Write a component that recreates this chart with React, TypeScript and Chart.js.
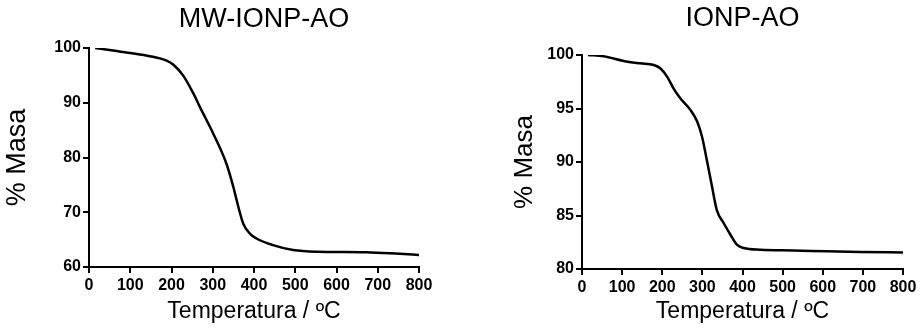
import React, { useEffect, useRef } from "react";
import { Chart, registerables } from "chart.js";

Chart.register(...registerables);

const FONT = '"Liberation Sans", Arial, Helvetica, sans-serif';

// MW-IONP-AO
const tempA = [15, 67, 99, 148, 188, 204, 228, 253, 269, 301, 333, 350, 362, 374, 390, 406, 446, 495, 551, 672, 753, 800];
const massA = [100, 99.45, 99.1, 98.5, 97.7, 97.0, 95.0, 91.7, 89.2, 84.4, 78.9, 74.6, 71.0, 67.9, 66.1, 65.2, 64.0, 63.1, 62.8, 62.7, 62.4, 62.2];

// IONP-AO
const tempB = [15, 54, 104, 145, 179, 195, 212, 228, 245, 270, 287, 299, 311, 324, 336, 353, 370, 386, 403, 444, 527, 610, 693, 800];
const massB = [100, 99.88, 99.44, 99.22, 99.07, 98.76, 97.98, 96.89, 95.96, 94.87, 93.78, 92.38, 90.2, 87.7, 85.5, 84.3, 83.2, 82.27, 81.96, 81.8, 81.74, 81.65, 81.59, 81.55];

const xTicks = [0, 100, 200, 300, 400, 500, 600, 700, 800];
const yTicksA = [60, 70, 80, 90, 100];
const yTicksB = [80, 85, 90, 95, 100];

const titleA = "MW-IONP-AO";
const titleB = "IONP-AO";
const xTitle = "Temperatura / ºC";
const yTitle = "% Masa";

type PanelProps = {
  width: number;
  temps: number[];
  mass: number[];
  yTicks: number[];
  title: string;
  titleDx: number;
  titleY: number;
  titleSize: number;
  yTitleSize: number;
  yTitlePad: number;
  pad: { top: number; right: number };
  yAxisWidth: number;
  xAxisHeight: number;
};

const panelTitle = {
  id: "panelTitle",
  afterDraw(chart: any, _args: any, opts: any) {
    if (!opts || !opts.text) return;
    const { ctx, chartArea } = chart;
    ctx.save();
    ctx.font = `${opts.size}px ${FONT}`;
    ctx.fillStyle = "#000";
    ctx.textAlign = "center";
    ctx.textBaseline = "middle";
    ctx.fillText(opts.text, (chartArea.left + chartArea.right) / 2 + opts.dx, opts.y);
    ctx.restore();
  },
};

function Panel(p: PanelProps) {
  const ref = useRef<HTMLCanvasElement | null>(null);
  useEffect(() => {
    if (!ref.current) return;
    const data = p.temps.map((t, i) => ({ x: t, y: p.mass[i] }));
    const yMin = p.yTicks[0];
    const yMax = p.yTicks[p.yTicks.length - 1];
    const chart = new Chart(ref.current, {
      type: "line",
      data: {
        datasets: [
          {
            data,
            borderColor: "#000",
            borderWidth: 2.5,
            pointRadius: 0,
            fill: false,
            cubicInterpolationMode: "monotone",
          },
        ],
      },
      plugins: [panelTitle as any],
      options: {
        animation: false,
        responsive: false,
        maintainAspectRatio: false,
        layout: { padding: { top: p.pad.top, right: p.pad.right, left: 0, bottom: 0 } },
        plugins: {
          legend: { display: false },
          tooltip: { enabled: false },
          title: { display: false },
          panelTitle: { text: p.title, dx: p.titleDx, y: p.titleY, size: p.titleSize },
        } as any,
        scales: {
          x: {
            type: "linear",
            min: 0,
            max: 800,
            border: { display: true, color: "#000", width: 2 },
            grid: { display: true, drawOnChartArea: false, drawTicks: true, tickLength: 6, color: "#000", lineWidth: 2 },
            ticks: { color: "#000", font: { family: FONT, size: 16, weight: "bold" }, padding: 3, maxRotation: 0, autoSkip: false },
            afterBuildTicks: (s: any) => {
              s.ticks = xTicks.map((v) => ({ value: v }));
            },
            title: {
              display: true,
              text: xTitle,
              color: "#000",
              font: { family: FONT, size: 23, lineHeight: 1 },
              padding: { top: 0, bottom: 6 },
            },
            afterFit: (s: any) => {
              s.height = p.xAxisHeight;
            },
          },
          y: {
            type: "linear",
            min: yMin,
            max: yMax,
            border: { display: true, color: "#000", width: 2 },
            grid: { display: true, drawOnChartArea: false, drawTicks: true, tickLength: 6, color: "#000", lineWidth: 2 },
            ticks: { color: "#000", font: { family: FONT, size: 16, weight: "bold" }, padding: 2 },
            afterBuildTicks: (s: any) => {
              s.ticks = p.yTicks.map((v) => ({ value: v }));
            },
            title: {
              display: true,
              text: yTitle,
              color: "#000",
              font: { family: FONT, size: p.yTitleSize, lineHeight: 1 },
              padding: { top: p.yTitlePad, bottom: 0 },
            },
            afterFit: (s: any) => {
              s.width = p.yAxisWidth;
            },
          },
        },
      } as any,
    });
    return () => chart.destroy();
  }, []);
  return <canvas ref={ref} width={p.width} height={329} style={{ display: "block" }} />;
}

export default function App() {
  return (
    <div style={{ position: "absolute", left: 0, top: 0, width: 921, height: 329, background: "#fff", display: "flex" }}>
      <Panel
        width={460}
        temps={tempA}
        mass={massA}
        yTicks={yTicksA}
        title={titleA}
        titleDx={10}
        titleY={20}
        titleSize={27}
        yTitleSize={27}
        yTitlePad={4}
        pad={{ top: 48, right: 41 }}
        yAxisWidth={89}
        xAxisHeight={62}
      />
      <Panel
        width={461}
        temps={tempB}
        mass={massB}
        yTicks={yTicksB}
        title={titleB}
        titleDx={0}
        titleY={19}
        titleSize={27}
        yTitleSize={26}
        yTitlePad={52}
        pad={{ top: 55, right: 18 }}
        yAxisWidth={122}
        xAxisHeight={60}
      />
    </div>
  );
}
